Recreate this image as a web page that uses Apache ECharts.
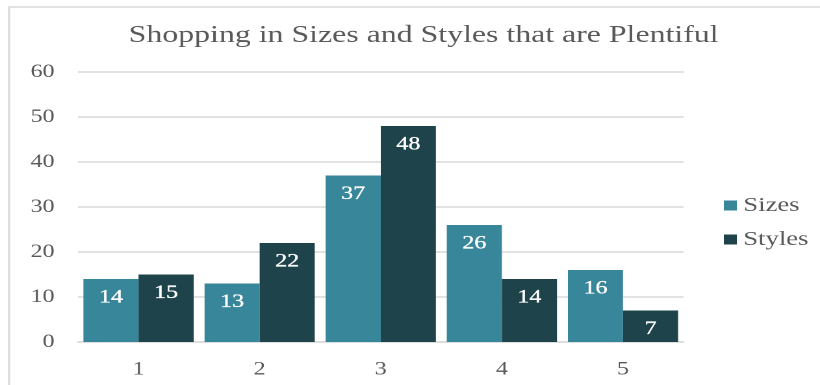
<!DOCTYPE html>
<html>
<head>
<meta charset="utf-8">
<script src="https://cdn.jsdelivr.net/npm/echarts@6/dist/echarts.min.js"></script>
<style>
  html, body { margin: 0; padding: 0; background: #fff; overflow: hidden; }
  /* The chart is laid out in a narrower box and widened to 820px,
     which gives the serif type its broad, stretched look. */
  #chart { width: 631px; height: 385px; transform: scaleX(1.2995); transform-origin: 0 0; }
</style>
</head>
<body>
<div id="chart"></div>
<script>
// Rating levels along the x axis
const categories = ['1', '2', '3', '4', '5'];
// Response counts per rating
const sizesValues = [14, 13, 37, 26, 16];
const stylesValues = [15, 22, 48, 14, 7];
// Value axis settings
const yMin = 0;
const yMax = 60;
const yStep = 10;

const FONT = "'Liberation Serif', serif";
const TEXT = '#595959';

const chart = echarts.init(document.getElementById('chart'), null, {
  renderer: 'canvas',
  devicePixelRatio: 2
});

// White value labels sitting just inside the top of each bar
const labelStyle = {
  show: true,
  position: 'insideTop',
  distance: 9,
  color: '#ffffff',
  fontFamily: FONT,
  fontSize: 18.5,
  fontWeight: 'normal',
  textBorderColor: '#ffffff',
  textBorderWidth: 0.3
};

chart.setOption({
  animation: false,
  backgroundColor: '#ffffff',
  graphic: [{
    type: 'rect',
    shape: { x: 7, y: 7, width: 650, height: 400 },
    style: { fill: 'none', stroke: '#d9d9d9', lineWidth: 1.5 },
    silent: true,
    z: -1
  }],
  title: {
    text: 'Shopping in Sizes and Styles that are Plentiful',
    left: 321,
    top: 18,
    textAlign: 'center',
    textStyle: { fontFamily: FONT, fontSize: 24.5, fontWeight: 'normal', color: TEXT }
  },
  legend: {
    orient: 'vertical',
    left: 552,
    top: 190,
    itemWidth: 10,
    itemHeight: 10,
    itemGap: 13,
    icon: 'rect',
    textStyle: { fontFamily: FONT, fontSize: 20.5, color: TEXT },
    data: ['Sizes', 'Styles']
  },
  grid: { left: 60, right: 105, top: 72, bottom: 43 },
  xAxis: {
    type: 'category',
    data: categories,
    axisLine: { lineStyle: { color: '#d9d9d9', width: 1.5 } },
    axisTick: { show: false },
    axisLabel: { fontFamily: FONT, fontSize: 18.5, color: TEXT, margin: 18 }
  },
  yAxis: {
    type: 'value',
    min: yMin,
    max: yMax,
    interval: yStep,
    axisLine: { show: false },
    axisTick: { show: false },
    splitLine: { lineStyle: { color: '#d9d9d9', width: 1.5 } },
    axisLabel: { fontFamily: FONT, fontSize: 18.5, color: TEXT, margin: 18 }
  },
  series: [
    {
      name: 'Sizes',
      type: 'bar',
      data: sizesValues,
      barGap: '0%',
      barCategoryGap: '9%',
      itemStyle: { color: '#38869a' },
      label: labelStyle
    },
    {
      name: 'Styles',
      type: 'bar',
      data: stylesValues,
      itemStyle: { color: '#1e434b' },
      label: labelStyle
    }
  ]
});
</script>
</body>
</html>
